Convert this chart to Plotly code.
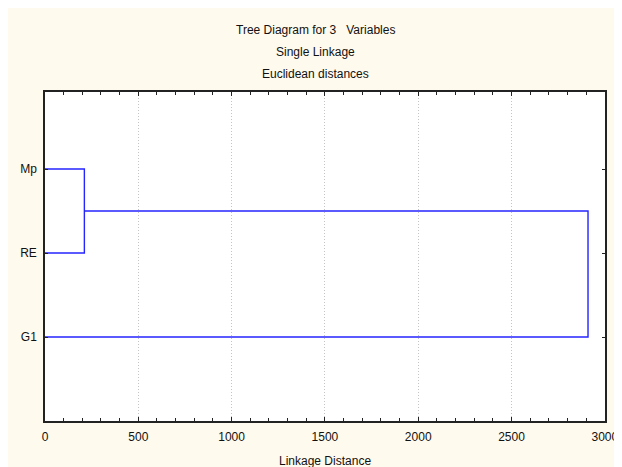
import plotly.graph_objects as go

# ---- data ----
leaf_labels = ["Mp", "RE", "G1"]          # top to bottom
merge_pairs = [(0, 1), (3, 2)]            # scipy-style: index >= n means earlier cluster
merge_dist = [211, 2910]
x_ticks = [0, 500, 1000, 1500, 2000, 2500, 3000]

n = len(leaf_labels)
leaf_y = [n - i for i in range(n)]        # Mp=3, RE=2, G1=1
node_y = list(leaf_y)
node_h = [0] * n

fig = go.Figure()
BLUE = "#2424ff"
for (a, b), d in zip(merge_pairs, merge_dist):
    ya, yb = node_y[a], node_y[b]
    ha, hb = node_h[a], node_h[b]
    fig.add_trace(go.Scatter(
        x=[ha, d, d, hb], y=[ya, ya, yb, yb], mode="lines",
        line=dict(color=BLUE, width=1.4), hoverinfo="skip", showlegend=False))
    node_y.append((ya + yb) / 2)
    node_h.append(d)

# ---- layout (pixel geometry, figure coordinates; page body adds 8px offset) ----
OFF = 8
W, H = 622, 467
L, R, T, B = 41 - OFF, 611 - OFF, 92 - OFF, 421 - OFF
pw, ph = R - L, B - T

def px(xp):
    return (xp - OFF - L) / pw

def py(yp):
    return (B - (yp - OFF)) / ph

unit = 84.0
g1_fig = 337 - OFF
ybot = 1 - (B - g1_fig) / unit
ytop = 1 + (g1_fig - T) / unit

FONT = "Liberation Sans, Arial, sans-serif"
fig.update_layout(
    width=W, height=H,
    margin=dict(l=L, r=W - R, t=T, b=H - B, pad=0),
    paper_bgcolor="#fffaee",
    plot_bgcolor="white",
    font=dict(family=FONT, size=12, color="#111111"),
    showlegend=False,
)
fig.update_xaxes(
    range=[0, 3001], tickvals=x_ticks, ticktext=[str(v) for v in x_ticks],
    showgrid=True, gridcolor="#c4c4c4", griddash="1px,2px", gridwidth=1,
    zeroline=False, showline=True, linecolor="#222222", linewidth=1.5, mirror="ticks",
    ticks="inside", ticklen=4, tickcolor="#222222",
    minor=dict(dtick=100, tick0=0, ticks="inside", ticklen=3, tickcolor="#222222", showgrid=False),
    tickfont=dict(size=12), ticklabelstandoff=4, title=None, fixedrange=True,
)
fig.update_yaxes(
    range=[ybot, ytop], tickvals=leaf_y, ticktext=leaf_labels,
    showgrid=False, zeroline=False, showline=True, linecolor="#222222", linewidth=1.5,
    mirror="ticks", ticks="inside", ticklen=3, tickcolor="#222222",
    tickfont=dict(size=12), ticklabelstandoff=4, fixedrange=True,
)

titles = [("Tree Diagram for 3\u00a0\u00a0\u00a0Variables", 29.5),
          ("Single Linkage", 52), ("Euclidean distances", 74)]
for txt, yy in titles:
    fig.add_annotation(text=txt, x=px(316), y=py(yy), xref="paper", yref="paper",
                       showarrow=False, xanchor="center", yanchor="middle",
                       font=dict(size=12))
fig.add_annotation(text="Linkage Distance", x=px(326), y=py(461), xref="paper", yref="paper",
                   showarrow=False, xanchor="center", yanchor="middle", font=dict(size=12))

fig.write_html("out.html")
